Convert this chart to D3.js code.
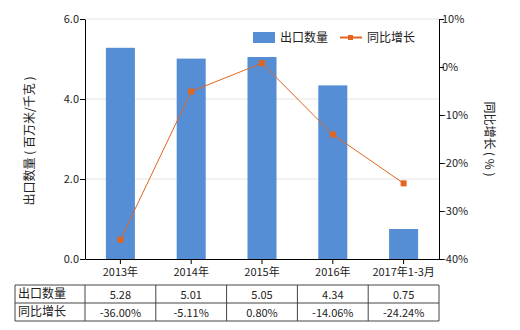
<!DOCTYPE html>
<html><head><meta charset="utf-8">
<script src="https://cdn.jsdelivr.net/npm/d3@7"></script>
<style>body{margin:0;background:#fff}svg{font-family:"Noto Sans CJK SC","Noto Sans",sans-serif}</style>
</head><body><svg id="c" width="520" height="330"></svg>
<script>
const categories = ["2013年","2014年","2015年","2016年","2017年1-3月"];
const exportQty = [5.28,5.01,5.05,4.34,0.75];
const growth = [-36.00,-5.11,0.80,-14.06,-24.24];
const qtyLabels = ["5.28","5.01","5.05","4.34","0.75"];
const growthLabels = ["-36.00%","-5.11%","0.80%","-14.06%","-24.24%"];
const leftTicks = [0,2,4,6];
const rightTicks = [10,0,-10,-20,-30,-40];

const svg = d3.select("#c");
const L=85, R=439, T=19, B=259;
const x = d3.scaleBand().domain(categories).range([L,R]).paddingInner(0.59).paddingOuter(0.295);
const xc = d3.scaleBand().domain(categories).range([L,R]);
const y = d3.scaleLinear().domain([0,6]).range([B,T]);
const y2 = d3.scaleLinear().domain([-40,10]).range([B,T]);

svg.append("g").selectAll("line").data(leftTicks.slice(1)).join("line")
  .attr("x1",L).attr("x2",R).attr("y1",d=>y(d)).attr("y2",d=>y(d))
  .attr("stroke","#e4e4e4").attr("stroke-width",1);

svg.append("g").selectAll("rect").data(exportQty).join("rect")
  .attr("x",(d,i)=>x(categories[i])).attr("width",x.bandwidth())
  .attr("y",d=>y(d)).attr("height",d=>B-y(d)).attr("fill","#558ed5");

const cx = (i)=>xc(categories[i])+xc.bandwidth()/2;
svg.append("path").datum(growth)
  .attr("d",d3.line().x((d,i)=>cx(i)).y(d=>y2(d)))
  .attr("fill","none").attr("stroke","#e0651f").attr("stroke-width",1);
svg.append("g").selectAll("rect").data(growth).join("rect")
  .attr("x",(d,i)=>cx(i)-3).attr("y",d=>y2(d)-3).attr("width",6).attr("height",6)
  .attr("fill","#e0651f");

const fs = "11px";
const la = svg.append("g").attr("transform",`translate(${L},0)`)
  .call(d3.axisLeft(y).tickValues(leftTicks).tickFormat(d3.format(".1f")).tickSize(5).tickSizeOuter(0));
const ra = svg.append("g").attr("transform",`translate(${R},0)`)
  .call(d3.axisRight(y2).tickValues(rightTicks).tickFormat(d=>d+"%").tickSize(5).tickSizeOuter(0));
const ba = svg.append("g").attr("transform",`translate(0,${B})`)
  .call(d3.axisBottom(xc).tickSize(5).tickSizeOuter(0));
[la,ra,ba].forEach(g=>{
  g.selectAll("path,line").attr("stroke","#000");
  g.selectAll("text").attr("fill","#222").style("font-size",fs).style("font-family","'Noto Sans CJK SC',sans-serif");
});
la.selectAll("text").attr("x",-6);
ra.selectAll("text").attr("x",3);
ba.selectAll("text").attr("y",9);

svg.append("text").attr("transform","translate(34,141) rotate(-90)")
  .attr("text-anchor","middle").style("font-size","12px").attr("fill","#222")
  .text("出口数量 ( 百万米/千克 )");
svg.append("text").attr("transform","translate(485,139) rotate(90)")
  .attr("text-anchor","middle").style("font-size","12px").attr("fill","#222")
  .text("同比增长 ( % )");

svg.append("rect").attr("x",253).attr("y",32).attr("width",22).attr("height",11).attr("fill","#558ed5");
svg.append("text").attr("x",280).attr("y",42).style("font-size","12px").attr("fill","#222").text("出口数量");
svg.append("line").attr("x1",340).attr("x2",362).attr("y1",37.5).attr("y2",37.5).attr("stroke","#e0651f").attr("stroke-width",2);
svg.append("rect").attr("x",348).attr("y",35).attr("width",5).attr("height",5).attr("fill","#e0651f");
svg.append("text").attr("x",367).attr("y",42).style("font-size","12px").attr("fill","#222").text("同比增长");

const tL=15, tT=285, rowH=18;
const tb = svg.append("g");
const colX = [tL].concat(categories.map(c=>xc(c))).concat([R]);
const rows = [["出口数量",qtyLabels],["同比增长",growthLabels]];
rows.forEach((r,ri)=>{
  const yy = tT+ri*rowH;
  tb.append("text").attr("x",tL+3).attr("y",yy+13).style("font-size","12px").attr("fill","#222").text(r[0]);
  r[1].forEach((v,i)=>{
    tb.append("text").attr("x",cx(i)).attr("y",yy+14).attr("text-anchor","middle")
      .style("font-size",fs).attr("fill","#222").text(v);
  });
});
[0,1,2].forEach(k=>tb.append("line").attr("x1",tL).attr("x2",R).attr("y1",tT+k*rowH).attr("y2",tT+k*rowH).attr("stroke","#444"));
colX.forEach(xx=>tb.append("line").attr("x1",xx).attr("x2",xx).attr("y1",tT).attr("y2",tT+2*rowH).attr("stroke","#444"));
</script></body></html>
